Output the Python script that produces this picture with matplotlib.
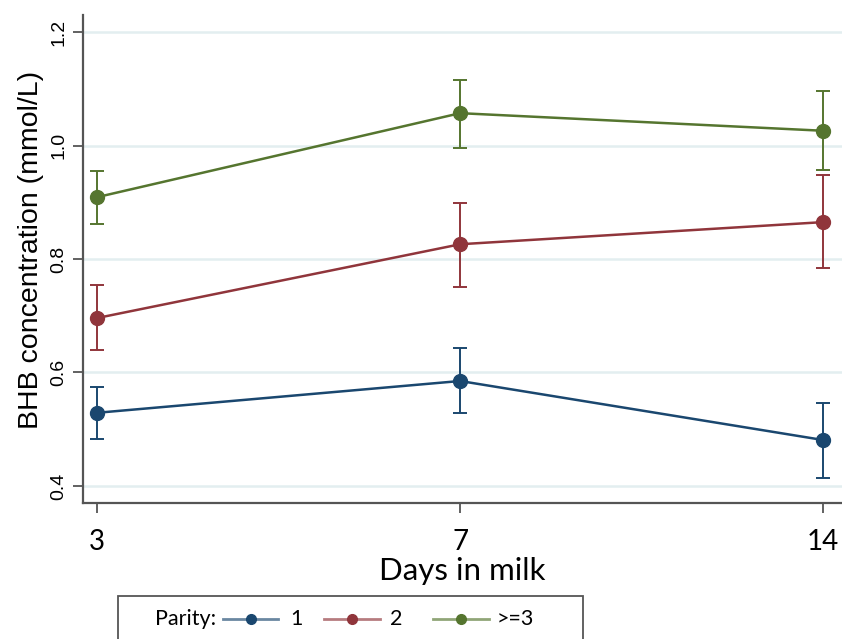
import numpy as np
import matplotlib
matplotlib.use("Agg")
import matplotlib.pyplot as plt
from matplotlib.lines import Line2D
from matplotlib.patches import Rectangle

# BHB means and 95% CI by days in milk, one series per parity group
days = ["3", "7", "14"]
parity = ["1", "2", ">=3"]
colors = ["#1a476f", "#90353b", "#55752f"]

mean_p1 = [0.529, 0.585, 0.481]
low_p1 = [0.483, 0.529, 0.414]
high_p1 = [0.574, 0.643, 0.546]

mean_p2 = [0.696, 0.826, 0.865]
low_p2 = [0.640, 0.751, 0.784]
high_p2 = [0.754, 0.899, 0.948]

mean_p3 = [0.909, 1.057, 1.026]
low_p3 = [0.862, 0.996, 0.957]
high_p3 = [0.955, 1.115, 1.096]

yticks = [0.4, 0.6, 0.8, 1.0, 1.2]

fig = plt.figure(figsize=(8.42, 6.39), dpi=100)
ax = fig.add_axes([83 / 842, 1 - 503 / 639, 1 - 83 / 842, (503 - 15) / 639])

x = np.arange(len(days))
series = [(mean_p1, low_p1, high_p1), (mean_p2, low_p2, high_p2), (mean_p3, low_p3, high_p3)]
for (m, lo, hi), c in zip(series, colors):
    m = np.array(m)
    err = [m - np.array(lo), np.array(hi) - m]
    ax.errorbar(x, m, yerr=err, color=c, lw=1.8, marker="o", ms=10,
                elinewidth=1.4, capsize=5, capthick=1.4, zorder=3)

for y in yticks:
    ax.axhline(y, color="#e3eef0", lw=1.8, zorder=1)

ax.set_xlim(-0.039, 2.052)
ax.set_ylim(0.37, 1.23)
ax.set_xticks(x)
ax.set_xticklabels(days, fontsize=20, family="Lato")
ax.set_yticks(yticks)
ax.set_yticklabels([f"{v:.1f}" for v in yticks], rotation=90, va="center",
                   fontsize=14, family="Liberation Sans")
ax.tick_params(axis="both", direction="out", length=7, width=1.3, color="#555555")
ax.tick_params(axis="x", pad=12)
ax.tick_params(axis="y", pad=4)

for s in ["top", "right"]:
    ax.spines[s].set_visible(False)
for s in ["left", "bottom"]:
    ax.spines[s].set_color("#555555")
    ax.spines[s].set_linewidth(1.6)

ax.set_xlabel("Days in milk", fontsize=22.5, family="Lato", labelpad=1)
ax.set_ylabel("BHB concentration (mmol/L)", fontsize=20.5, family="Liberation Sans")
ax.yaxis.set_label_coords(-0.052, 0.518)

# legend box along the bottom edge
fig.add_artist(Rectangle((118 / 842, -0.05), (583 - 118) / 842, 0.05 + (639 - 596) / 639,
                         transform=fig.transFigure, fill=False, edgecolor="#555555", lw=1.3))
ly = 1 - 619 / 639
fig.text(155 / 842, ly, "Parity:", fontsize=15.5, family="Lato", va="center")
key_x = [(223, 278, 290), (324, 380, 390), (433, 489, 497)]
for (x0, x1, tx), c, lab in zip(key_x, colors, parity):
    fig.add_artist(Line2D([x0 / 842, x1 / 842], [ly, ly], transform=fig.transFigure,
                          color=c, lw=2, alpha=0.65))
    fig.add_artist(Line2D([(x0 + x1) / 2 / 842], [ly], transform=fig.transFigure,
                          color=c, marker="o", ms=7))
    fig.text(tx / 842, ly, lab, fontsize=15.5, family="Lato", va="center")

fig.savefig("out.png", dpi=100)
